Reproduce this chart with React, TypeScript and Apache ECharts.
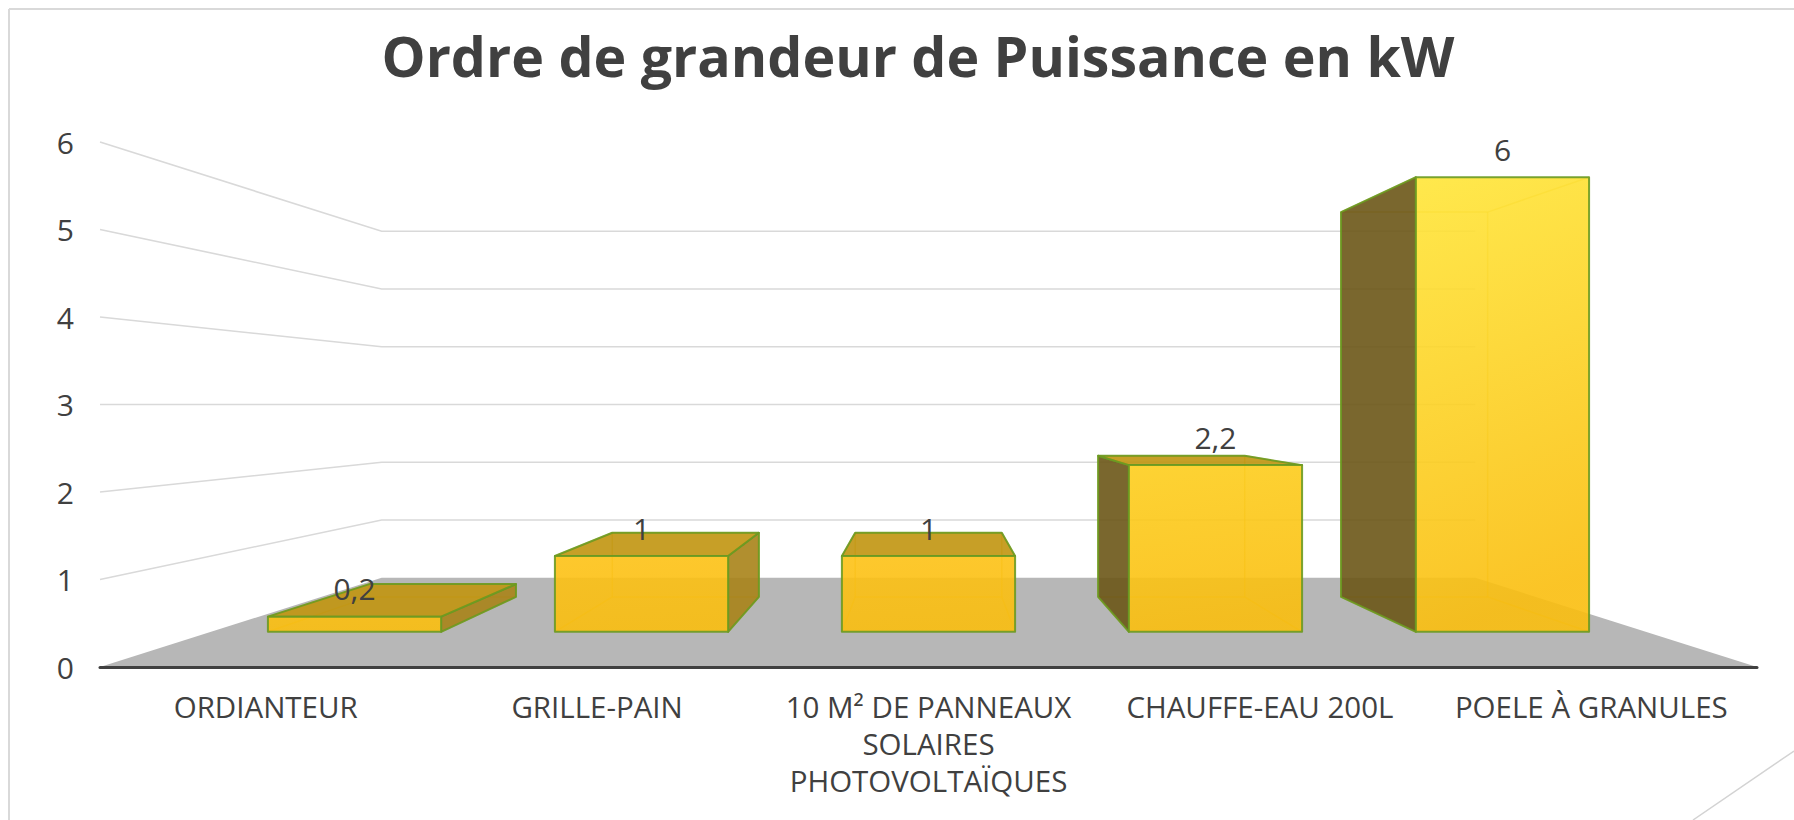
import React, { useEffect, useRef } from 'react';
import * as echarts from 'echarts';

const TITLE = 'Ordre de grandeur de Puissance en kW';
const CATEGORIES = [
  'ORDIANTEUR',
  'GRILLE-PAIN',
  '10 M² DE PANNEAUX\nSOLAIRES\nPHOTOVOLTAÏQUES',
  'CHAUFFE-EAU 200L',
  'POELE À GRANULES',
];
const VALUES = [0.2, 1, 1, 2.2, 6];
const Y_TICKS = [1, 2, 3, 4, 5, 6];
const Y_MIN = 0;
const Y_MAX = 6;
const Y_INTERVAL = 1;

// perspective parameters (scale factor relative to the front plane)
const S_BACK = 0.66;
const S_BAR_FRONT = 0.866;
const S_BAR_BACK = 0.733;
const BAR_FRAC = 0.6035;

const FONT = '"Open Sans", "Noto Sans", sans-serif';
const TEXT_COLOR = '#404040';

// front-face colour stops along the plot height (0 = top, 1 = bottom)
const FRONT_STOPS: [number, number[]][] = [
  [0, [255, 233, 60]],
  [0.6, [253, 207, 30]],
  [0.78, [253, 194, 22]],
  [1, [249, 188, 12]],
];

const fmt = (v: number) => String(v).replace('.', ',');

const colorAt = (t: number) => {
  const tt = Math.max(0, Math.min(1, t));
  for (let i = 1; i < FRONT_STOPS.length; i++) {
    const [o1, c1] = FRONT_STOPS[i - 1];
    const [o2, c2] = FRONT_STOPS[i];
    if (tt <= o2) {
      const k = (tt - o1) / (o2 - o1 || 1);
      const c = c1.map((v, j) => Math.round(v + (c2[j] - v) * k));
      return `rgb(${c[0]},${c[1]},${c[2]})`;
    }
  }
  const c = FRONT_STOPS[FRONT_STOPS.length - 1][1];
  return `rgb(${c[0]},${c[1]},${c[2]})`;
};

export default function App() {
  const ref = useRef<HTMLDivElement>(null);
  useEffect(() => {
    if (!ref.current) return;
    const chart = echarts.init(ref.current, undefined, { renderer: 'svg' });

    const proj = (cs: any) => {
      const vx = cs.x + cs.width / 2;
      const vy = cs.y + cs.height / 2;
      return (X: number, Y: number, s: number) => [vx + s * (X - vx), vy + s * (Y - vy)];
    };

    const option: any = {
      animation: false,
      backgroundColor: '#ffffff',
      title: {
        text: TITLE,
        left: 913,
        top: 22,
        textAlign: 'center',
        textStyle: { fontFamily: FONT, fontWeight: 'bold', fontSize: 55.5, color: TEXT_COLOR },
      },
      grid: { left: 100, right: 37, top: 142, bottom: 153 },
      xAxis: {
        type: 'category',
        data: CATEGORIES,
        z: 10,
        axisTick: { show: false },
        axisLine: { lineStyle: { color: TEXT_COLOR, width: 3, cap: 'round' } },
        axisLabel: {
          interval: 0,
          color: TEXT_COLOR,
          fontFamily: FONT,
          fontSize: 29.5,
          lineHeight: 37,
          margin: 21,
        },
        splitLine: { show: false },
      },
      yAxis: {
        type: 'value',
        min: Y_MIN,
        max: Y_MAX,
        interval: Y_INTERVAL,
        axisLine: { show: false },
        axisTick: { show: false },
        splitLine: { show: false },
        axisLabel: { color: TEXT_COLOR, fontFamily: FONT, fontSize: 30, margin: 26 },
      },
      graphic: [
        { type: 'line', silent: true, shape: { x1: 9, y1: 9, x2: 1794, y2: 9 }, style: { stroke: '#D9D9D9', lineWidth: 2 } },
        { type: 'line', silent: true, shape: { x1: 9, y1: 9, x2: 9, y2: 820 }, style: { stroke: '#D9D9D9', lineWidth: 2 } },
        { type: 'line', silent: true, shape: { x1: 1693, y1: 820, x2: 1794, y2: 751 }, style: { stroke: '#D3D3D3', lineWidth: 1.5 } },
      ],
      series: [
        {
          type: 'custom',
          name: 'walls',
          z: 1,
          silent: true,
          data: Y_TICKS.map((v) => [0, v]),
          renderItem: (params: any, api: any) => {
            const cs = params.coordSys;
            const p = proj(cs);
            const Y = api.coord([0, api.value(1)])[1];
            const x0 = cs.x;
            const x1 = cs.x + cs.width;
            return {
              type: 'polyline',
              shape: { points: [[x0, Y], p(x0, Y, S_BACK), p(x1, Y, S_BACK)] },
              style: { stroke: '#D9D9D9', lineWidth: 1.6, fill: null },
            };
          },
        },
        {
          type: 'custom',
          name: 'floor',
          z: 2,
          silent: true,
          data: [[0, Y_MIN]],
          renderItem: (params: any, api: any) => {
            const cs = params.coordSys;
            const p = proj(cs);
            const Y = api.coord([0, api.value(1)])[1];
            const x0 = cs.x;
            const x1 = cs.x + cs.width;
            return {
              type: 'polygon',
              shape: { points: [[x0, Y], p(x0, Y, S_BACK), p(x1, Y, S_BACK), [x1, Y]] },
              style: { fill: '#B7B7B7' },
            };
          },
        },
        {
          type: 'custom',
          name: 'Puissance',
          z: 3,
          data: VALUES.map((v, i) => [i, v]),
          renderItem: (params: any, api: any) => {
            const cs = params.coordSys;
            const p = proj(cs);
            const vx = cs.x + cs.width / 2;
            const vy = cs.y + cs.height / 2;
            const val = api.value(1);
            const [cx, Yt] = api.coord([api.value(0), val]);
            const Y0 = api.coord([api.value(0), Y_MIN])[1];
            const band = api.size([1, 0])[0];
            const hw = (band * BAR_FRAC) / 2;
            const L = cx - hw;
            const R = cx + hw;
            const f = S_BAR_FRONT;
            const b = S_BAR_BACK;
            const FLB = p(L, Y0, f), FRB = p(R, Y0, f), FRT = p(R, Yt, f), FLT = p(L, Yt, f);
            const BLB = p(L, Y0, b), BRB = p(R, Y0, b), BRT = p(R, Yt, b), BLT = p(L, Yt, b);
            const children: any[] = [];
            const edges = [
              [BLB, BRB], [BRB, BRT], [BRT, BLT], [BLT, BLB],
              [FLB, BLB], [FRB, BRB], [FRT, BRT], [FLT, BLT],
            ];
            edges.forEach(([a, c]) =>
              children.push({
                type: 'line',
                shape: { x1: a[0], y1: a[1], x2: c[0], y2: c[1] },
                style: { stroke: 'rgba(215,170,0,0.5)', lineWidth: 1.5 },
              })
            );
            const edge = { stroke: '#6A9A22', lineWidth: 2, lineJoin: 'round' };
            if (R < vx) {
              children.push({
                type: 'polygon',
                shape: { points: [FRB, FRT, BRT, BRB] },
                style: { fill: '#A98318', opacity: 0.9, ...edge },
              });
            }
            if (L > vx) {
              children.push({
                type: 'polygon',
                shape: { points: [FLB, FLT, BLT, BLB] },
                style: { fill: '#6B5617', opacity: 0.9, ...edge },
              });
            }
            if (Yt > vy) {
              children.push({
                type: 'polygon',
                shape: { points: [FLT, FRT, BRT, BLT] },
                style: { fill: '#C1950F', opacity: 0.9, ...edge },
              });
            }
            const tTop = (FLT[1] - cs.y) / cs.height;
            const tBot = (FLB[1] - cs.y) / cs.height;
            children.push({
              type: 'polygon',
              shape: { points: [FLB, FRB, FRT, FLT] },
              style: {
                fill: new echarts.graphic.LinearGradient(0, 0, 0.15, 1, [
                  { offset: 0, color: colorAt(tTop) },
                  { offset: 1, color: colorAt(tBot) },
                ]),
                opacity: 0.9,
                ...edge,
              },
            });
            children.push({
              type: 'text',
              style: {
                text: fmt(val),
                x: (FLT[0] + FRT[0]) / 2,
                y: FLT[1] - 28,
                fill: TEXT_COLOR,
                fontFamily: FONT,
                fontSize: 30,
                align: 'center',
                verticalAlign: 'middle',
              },
            });
            return { type: 'group', children };
          },
        },
      ],
    };
    chart.setOption(option);
    return () => chart.dispose();
  }, []);
  return (
    <div
      ref={ref}
      style={{ position: 'fixed', left: 0, top: 0, width: 1794, height: 820, background: '#fff' }}
    />
  );
}
